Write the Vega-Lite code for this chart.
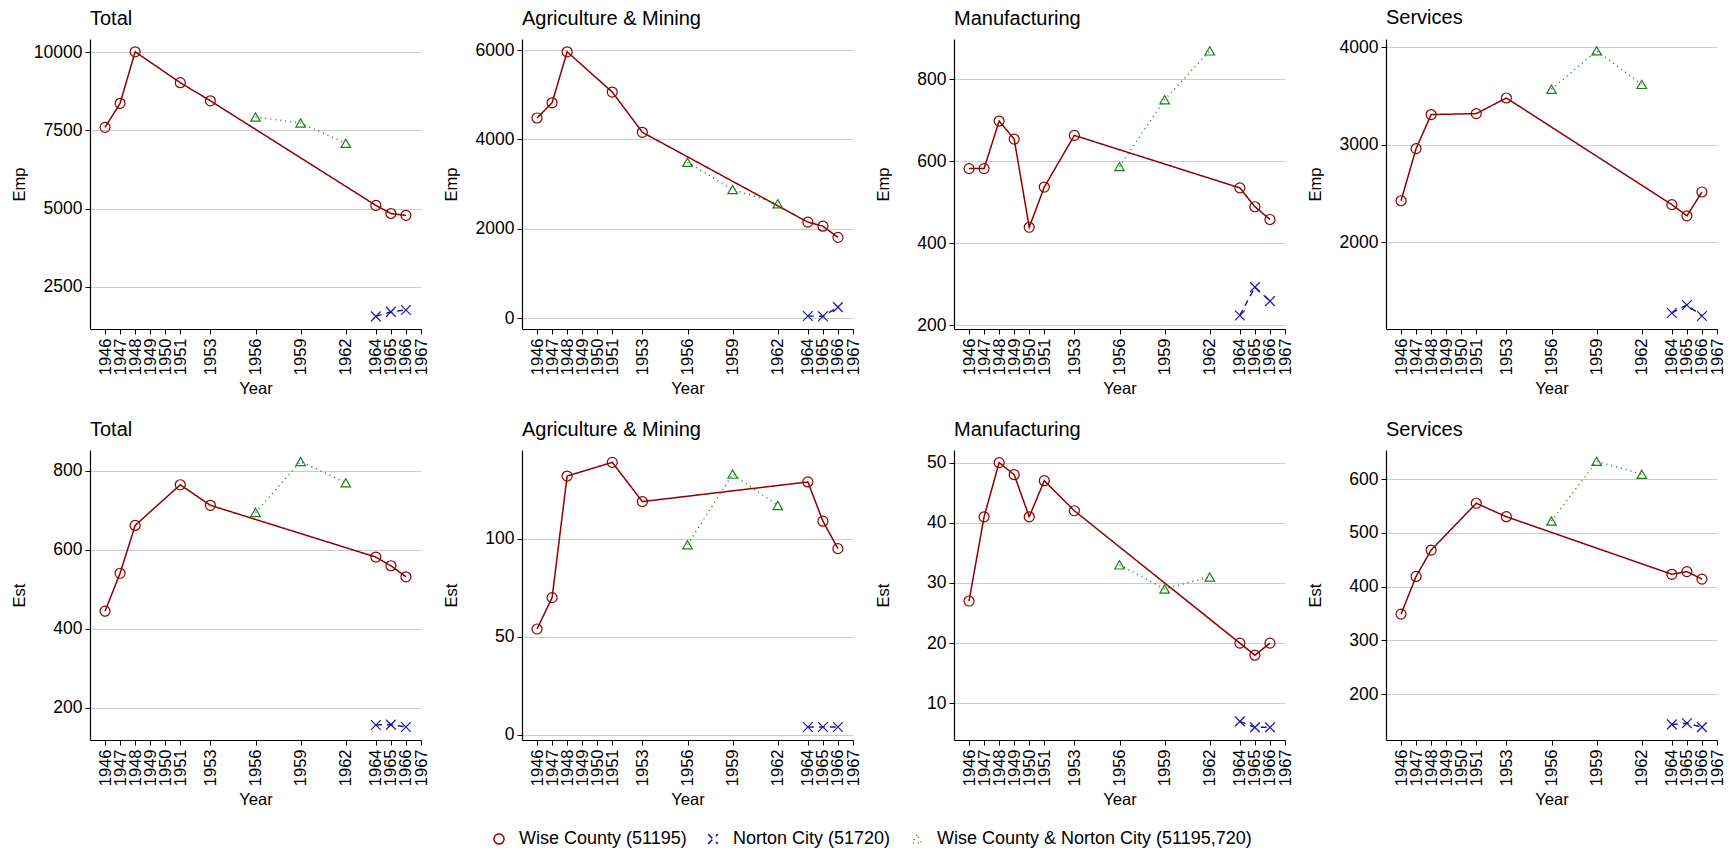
{
  "$schema": "https://vega.github.io/schema/vega-lite/v6.json",
  "background": "white",
  "padding": {"left": 11, "top": 8, "right": 5, "bottom": 5},
  "datasets": {
    "emp": [
      {"measure": "Emp", "sector": "Total", "area": "Wise County (51195)", "year": 1946, "value": 7600},
      {"measure": "Emp", "sector": "Total", "area": "Wise County (51195)", "year": 1947, "value": 8370},
      {"measure": "Emp", "sector": "Total", "area": "Wise County (51195)", "year": 1948, "value": 10020},
      {"measure": "Emp", "sector": "Total", "area": "Wise County (51195)", "year": 1951, "value": 9030},
      {"measure": "Emp", "sector": "Total", "area": "Wise County (51195)", "year": 1953, "value": 8450},
      {"measure": "Emp", "sector": "Total", "area": "Wise County (51195)", "year": 1964, "value": 5100},
      {"measure": "Emp", "sector": "Total", "area": "Wise County (51195)", "year": 1965, "value": 4840},
      {"measure": "Emp", "sector": "Total", "area": "Wise County (51195)", "year": 1966, "value": 4780},
      {"measure": "Emp", "sector": "Total", "area": "Norton City (51720)", "year": 1964, "value": 1545},
      {"measure": "Emp", "sector": "Total", "area": "Norton City (51720)", "year": 1965, "value": 1690},
      {"measure": "Emp", "sector": "Total", "area": "Norton City (51720)", "year": 1966, "value": 1750},
      {"measure": "Emp", "sector": "Total", "area": "Wise County & Norton City (51195,720)", "year": 1956, "value": 7930},
      {"measure": "Emp", "sector": "Total", "area": "Wise County & Norton City (51195,720)", "year": 1959, "value": 7740},
      {"measure": "Emp", "sector": "Total", "area": "Wise County & Norton City (51195,720)", "year": 1962, "value": 7090},

      {"measure": "Emp", "sector": "Agri", "area": "Wise County (51195)", "year": 1946, "value": 4480},
      {"measure": "Emp", "sector": "Agri", "area": "Wise County (51195)", "year": 1947, "value": 4820},
      {"measure": "Emp", "sector": "Agri", "area": "Wise County (51195)", "year": 1948, "value": 5960},
      {"measure": "Emp", "sector": "Agri", "area": "Wise County (51195)", "year": 1951, "value": 5060},
      {"measure": "Emp", "sector": "Agri", "area": "Wise County (51195)", "year": 1953, "value": 4160},
      {"measure": "Emp", "sector": "Agri", "area": "Wise County (51195)", "year": 1964, "value": 2150},
      {"measure": "Emp", "sector": "Agri", "area": "Wise County (51195)", "year": 1965, "value": 2060},
      {"measure": "Emp", "sector": "Agri", "area": "Wise County (51195)", "year": 1966, "value": 1810},
      {"measure": "Emp", "sector": "Agri", "area": "Norton City (51720)", "year": 1964, "value": 50},
      {"measure": "Emp", "sector": "Agri", "area": "Norton City (51720)", "year": 1965, "value": 45},
      {"measure": "Emp", "sector": "Agri", "area": "Norton City (51720)", "year": 1966, "value": 250},
      {"measure": "Emp", "sector": "Agri", "area": "Wise County & Norton City (51195,720)", "year": 1956, "value": 3490},
      {"measure": "Emp", "sector": "Agri", "area": "Wise County & Norton City (51195,720)", "year": 1959, "value": 2880},
      {"measure": "Emp", "sector": "Agri", "area": "Wise County & Norton City (51195,720)", "year": 1962, "value": 2560},

      {"measure": "Emp", "sector": "Manuf", "area": "Wise County (51195)", "year": 1946, "value": 582},
      {"measure": "Emp", "sector": "Manuf", "area": "Wise County (51195)", "year": 1947, "value": 582},
      {"measure": "Emp", "sector": "Manuf", "area": "Wise County (51195)", "year": 1948, "value": 698},
      {"measure": "Emp", "sector": "Manuf", "area": "Wise County (51195)", "year": 1949, "value": 654},
      {"measure": "Emp", "sector": "Manuf", "area": "Wise County (51195)", "year": 1950, "value": 439},
      {"measure": "Emp", "sector": "Manuf", "area": "Wise County (51195)", "year": 1951, "value": 537},
      {"measure": "Emp", "sector": "Manuf", "area": "Wise County (51195)", "year": 1953, "value": 663},
      {"measure": "Emp", "sector": "Manuf", "area": "Wise County (51195)", "year": 1964, "value": 535},
      {"measure": "Emp", "sector": "Manuf", "area": "Wise County (51195)", "year": 1965, "value": 489},
      {"measure": "Emp", "sector": "Manuf", "area": "Wise County (51195)", "year": 1966, "value": 458},
      {"measure": "Emp", "sector": "Manuf", "area": "Norton City (51720)", "year": 1964, "value": 224},
      {"measure": "Emp", "sector": "Manuf", "area": "Norton City (51720)", "year": 1965, "value": 293},
      {"measure": "Emp", "sector": "Manuf", "area": "Norton City (51720)", "year": 1966, "value": 259},
      {"measure": "Emp", "sector": "Manuf", "area": "Wise County & Norton City (51195,720)", "year": 1956, "value": 587},
      {"measure": "Emp", "sector": "Manuf", "area": "Wise County & Norton City (51195,720)", "year": 1959, "value": 750},
      {"measure": "Emp", "sector": "Manuf", "area": "Wise County & Norton City (51195,720)", "year": 1962, "value": 869},

      {"measure": "Emp", "sector": "Serv", "area": "Wise County (51195)", "year": 1946, "value": 2425},
      {"measure": "Emp", "sector": "Serv", "area": "Wise County (51195)", "year": 1947, "value": 2960},
      {"measure": "Emp", "sector": "Serv", "area": "Wise County (51195)", "year": 1948, "value": 3310},
      {"measure": "Emp", "sector": "Serv", "area": "Wise County (51195)", "year": 1951, "value": 3320},
      {"measure": "Emp", "sector": "Serv", "area": "Wise County (51195)", "year": 1953, "value": 3480},
      {"measure": "Emp", "sector": "Serv", "area": "Wise County (51195)", "year": 1964, "value": 2385},
      {"measure": "Emp", "sector": "Serv", "area": "Wise County (51195)", "year": 1965, "value": 2270},
      {"measure": "Emp", "sector": "Serv", "area": "Wise County (51195)", "year": 1966, "value": 2515},
      {"measure": "Emp", "sector": "Serv", "area": "Norton City (51720)", "year": 1964, "value": 1273},
      {"measure": "Emp", "sector": "Serv", "area": "Norton City (51720)", "year": 1965, "value": 1355},
      {"measure": "Emp", "sector": "Serv", "area": "Norton City (51720)", "year": 1966, "value": 1242},
      {"measure": "Emp", "sector": "Serv", "area": "Wise County & Norton City (51195,720)", "year": 1956, "value": 3570},
      {"measure": "Emp", "sector": "Serv", "area": "Wise County & Norton City (51195,720)", "year": 1959, "value": 3965},
      {"measure": "Emp", "sector": "Serv", "area": "Wise County & Norton City (51195,720)", "year": 1962, "value": 3620},

      {"measure": "Est", "sector": "Total", "area": "Wise County (51195)", "year": 1946, "value": 444},
      {"measure": "Est", "sector": "Total", "area": "Wise County (51195)", "year": 1947, "value": 540},
      {"measure": "Est", "sector": "Total", "area": "Wise County (51195)", "year": 1948, "value": 661},
      {"measure": "Est", "sector": "Total", "area": "Wise County (51195)", "year": 1951, "value": 764},
      {"measure": "Est", "sector": "Total", "area": "Wise County (51195)", "year": 1953, "value": 712},
      {"measure": "Est", "sector": "Total", "area": "Wise County (51195)", "year": 1964, "value": 581},
      {"measure": "Est", "sector": "Total", "area": "Wise County (51195)", "year": 1965, "value": 559},
      {"measure": "Est", "sector": "Total", "area": "Wise County (51195)", "year": 1966, "value": 531},
      {"measure": "Est", "sector": "Total", "area": "Norton City (51720)", "year": 1964, "value": 156},
      {"measure": "Est", "sector": "Total", "area": "Norton City (51720)", "year": 1965, "value": 157},
      {"measure": "Est", "sector": "Total", "area": "Norton City (51720)", "year": 1966, "value": 151},
      {"measure": "Est", "sector": "Total", "area": "Wise County & Norton City (51195,720)", "year": 1956, "value": 694},
      {"measure": "Est", "sector": "Total", "area": "Wise County & Norton City (51195,720)", "year": 1959, "value": 823},
      {"measure": "Est", "sector": "Total", "area": "Wise County & Norton City (51195,720)", "year": 1962, "value": 769},

      {"measure": "Est", "sector": "Agri", "area": "Wise County (51195)", "year": 1946, "value": 54},
      {"measure": "Est", "sector": "Agri", "area": "Wise County (51195)", "year": 1947, "value": 70},
      {"measure": "Est", "sector": "Agri", "area": "Wise County (51195)", "year": 1948, "value": 132},
      {"measure": "Est", "sector": "Agri", "area": "Wise County (51195)", "year": 1951, "value": 139},
      {"measure": "Est", "sector": "Agri", "area": "Wise County (51195)", "year": 1953, "value": 119},
      {"measure": "Est", "sector": "Agri", "area": "Wise County (51195)", "year": 1964, "value": 129},
      {"measure": "Est", "sector": "Agri", "area": "Wise County (51195)", "year": 1965, "value": 109},
      {"measure": "Est", "sector": "Agri", "area": "Wise County (51195)", "year": 1966, "value": 95},
      {"measure": "Est", "sector": "Agri", "area": "Norton City (51720)", "year": 1964, "value": 4},
      {"measure": "Est", "sector": "Agri", "area": "Norton City (51720)", "year": 1965, "value": 4},
      {"measure": "Est", "sector": "Agri", "area": "Norton City (51720)", "year": 1966, "value": 4},
      {"measure": "Est", "sector": "Agri", "area": "Wise County & Norton City (51195,720)", "year": 1956, "value": 97},
      {"measure": "Est", "sector": "Agri", "area": "Wise County & Norton City (51195,720)", "year": 1959, "value": 133},
      {"measure": "Est", "sector": "Agri", "area": "Wise County & Norton City (51195,720)", "year": 1962, "value": 117},

      {"measure": "Est", "sector": "Manuf", "area": "Wise County (51195)", "year": 1946, "value": 27},
      {"measure": "Est", "sector": "Manuf", "area": "Wise County (51195)", "year": 1947, "value": 41},
      {"measure": "Est", "sector": "Manuf", "area": "Wise County (51195)", "year": 1948, "value": 50},
      {"measure": "Est", "sector": "Manuf", "area": "Wise County (51195)", "year": 1949, "value": 48},
      {"measure": "Est", "sector": "Manuf", "area": "Wise County (51195)", "year": 1950, "value": 41},
      {"measure": "Est", "sector": "Manuf", "area": "Wise County (51195)", "year": 1951, "value": 47},
      {"measure": "Est", "sector": "Manuf", "area": "Wise County (51195)", "year": 1953, "value": 42},
      {"measure": "Est", "sector": "Manuf", "area": "Wise County (51195)", "year": 1964, "value": 20},
      {"measure": "Est", "sector": "Manuf", "area": "Wise County (51195)", "year": 1965, "value": 18},
      {"measure": "Est", "sector": "Manuf", "area": "Wise County (51195)", "year": 1966, "value": 20},
      {"measure": "Est", "sector": "Manuf", "area": "Norton City (51720)", "year": 1964, "value": 7},
      {"measure": "Est", "sector": "Manuf", "area": "Norton City (51720)", "year": 1965, "value": 6},
      {"measure": "Est", "sector": "Manuf", "area": "Norton City (51720)", "year": 1966, "value": 6},
      {"measure": "Est", "sector": "Manuf", "area": "Wise County & Norton City (51195,720)", "year": 1956, "value": 33},
      {"measure": "Est", "sector": "Manuf", "area": "Wise County & Norton City (51195,720)", "year": 1959, "value": 29},
      {"measure": "Est", "sector": "Manuf", "area": "Wise County & Norton City (51195,720)", "year": 1962, "value": 31},

      {"measure": "Est", "sector": "Serv", "area": "Wise County (51195)", "year": 1946, "value": 349},
      {"measure": "Est", "sector": "Serv", "area": "Wise County (51195)", "year": 1947, "value": 419},
      {"measure": "Est", "sector": "Serv", "area": "Wise County (51195)", "year": 1948, "value": 468},
      {"measure": "Est", "sector": "Serv", "area": "Wise County (51195)", "year": 1951, "value": 555},
      {"measure": "Est", "sector": "Serv", "area": "Wise County (51195)", "year": 1953, "value": 530},
      {"measure": "Est", "sector": "Serv", "area": "Wise County (51195)", "year": 1964, "value": 423},
      {"measure": "Est", "sector": "Serv", "area": "Wise County (51195)", "year": 1965, "value": 428},
      {"measure": "Est", "sector": "Serv", "area": "Wise County (51195)", "year": 1966, "value": 414},
      {"measure": "Est", "sector": "Serv", "area": "Norton City (51720)", "year": 1964, "value": 144},
      {"measure": "Est", "sector": "Serv", "area": "Norton City (51720)", "year": 1965, "value": 146},
      {"measure": "Est", "sector": "Serv", "area": "Norton City (51720)", "year": 1966, "value": 139},
      {"measure": "Est", "sector": "Serv", "area": "Wise County & Norton City (51195,720)", "year": 1956, "value": 522},
      {"measure": "Est", "sector": "Serv", "area": "Wise County & Norton City (51195,720)", "year": 1959, "value": 633},
      {"measure": "Est", "sector": "Serv", "area": "Wise County & Norton City (51195,720)", "year": 1962, "value": 609}
    ]
  },
  "data": {"name": "emp"},
  "columns": 4,
  "bounds": "flush",
  "spacing": {"row": 121, "column": 101},
  "concat": [
    {
      "title": "Total", "width": 331, "height": 290,
      "transform": [{"filter": "datum.measure == 'Emp' && datum.sector == 'Total'"}],
      "encoding": {
        "x": {"field": "year", "type": "quantitative", "title": "Year", "scale": {"domain": [1945, 1967], "nice": false, "zero": false}, "axis": {"values": [1946,1947,1948,1949,1950,1951,1953,1956,1959,1962,1964,1965,1966,1967]}},
        "y": {"field": "value", "type": "quantitative", "title": "Emp", "scale": {"domain": [1140, 10430], "nice": false, "zero": false}, "axis": {"values": [2500, 5000, 7500, 10000]}},
        "color": {"field": "area", "type": "nominal", "title": null, "scale": {"domain": ["Wise County (51195)", "Norton City (51720)", "Wise County & Norton City (51195,720)"], "range": ["#8B0000", "#1818A0", "#1B801B"]}, "legend": {"orient": "none", "legendX": 400, "legendY": 791}}
      },
      "layer": [
        {"mark": {"type": "line", "strokeWidth": 1.5}, "encoding": {"strokeDash": {"field": "area", "type": "nominal", "title": null, "legend": null, "scale": {"domain": ["Wise County (51195)", "Norton City (51720)", "Wise County & Norton City (51195,720)"], "range": [[1, 0], [6, 5], [1, 4]]}}}},
        {"mark": {"type": "point", "filled": false, "strokeWidth": 1.2, "opacity": 1}, "encoding": {"shape": {"field": "area", "type": "nominal", "title": null, "scale": {"domain": ["Wise County (51195)", "Norton City (51720)", "Wise County & Norton City (51195,720)"], "range": ["circle", "M-1,-1L1,1M-1,1L1,-1", "triangle-up"]}}, "size": {"field": "area", "type": "nominal", "title": null, "scale": {"domain": ["Wise County (51195)", "Norton City (51720)", "Wise County & Norton City (51195,720)"], "range": [100, 90, 140]}}}}
      ]
    },
    {
      "title": "Agriculture & Mining", "width": 331, "height": 290,
      "transform": [{"filter": "datum.measure == 'Emp' && datum.sector == 'Agri'"}],
      "encoding": {
        "x": {"field": "year", "type": "quantitative", "title": "Year", "scale": {"domain": [1945, 1967], "nice": false, "zero": false}, "axis": {"values": [1946,1947,1948,1949,1950,1951,1953,1956,1959,1962,1964,1965,1966,1967]}},
        "y": {"field": "value", "type": "quantitative", "title": "Emp", "scale": {"domain": [-240, 6247], "nice": false, "zero": false}, "axis": {"values": [0, 2000, 4000, 6000]}},
        "color": {"field": "area", "type": "nominal", "title": null, "scale": {"domain": ["Wise County (51195)", "Norton City (51720)", "Wise County & Norton City (51195,720)"], "range": ["#8B0000", "#1818A0", "#1B801B"]}, "legend": {"orient": "none", "legendX": 400, "legendY": 791}}
      },
      "layer": [
        {"mark": {"type": "line", "strokeWidth": 1.5}, "encoding": {"strokeDash": {"field": "area", "type": "nominal", "title": null, "legend": null, "scale": {"domain": ["Wise County (51195)", "Norton City (51720)", "Wise County & Norton City (51195,720)"], "range": [[1, 0], [6, 5], [1, 4]]}}}},
        {"mark": {"type": "point", "filled": false, "strokeWidth": 1.2, "opacity": 1}, "encoding": {"shape": {"field": "area", "type": "nominal", "title": null, "scale": {"domain": ["Wise County (51195)", "Norton City (51720)", "Wise County & Norton City (51195,720)"], "range": ["circle", "M-1,-1L1,1M-1,1L1,-1", "triangle-up"]}}, "size": {"field": "area", "type": "nominal", "title": null, "scale": {"domain": ["Wise County (51195)", "Norton City (51720)", "Wise County & Norton City (51195,720)"], "range": [100, 90, 140]}}}}
      ]
    },
    {
      "title": "Manufacturing", "width": 331, "height": 290,
      "transform": [{"filter": "datum.measure == 'Emp' && datum.sector == 'Manuf'"}],
      "encoding": {
        "x": {"field": "year", "type": "quantitative", "title": "Year", "scale": {"domain": [1945, 1967], "nice": false, "zero": false}, "axis": {"values": [1946,1947,1948,1949,1950,1951,1953,1956,1959,1962,1964,1965,1966,1967]}},
        "y": {"field": "value", "type": "quantitative", "title": "Emp", "scale": {"domain": [191, 898], "nice": false, "zero": false}, "axis": {"values": [200, 400, 600, 800]}},
        "color": {"field": "area", "type": "nominal", "title": null, "scale": {"domain": ["Wise County (51195)", "Norton City (51720)", "Wise County & Norton City (51195,720)"], "range": ["#8B0000", "#1818A0", "#1B801B"]}, "legend": {"orient": "none", "legendX": 400, "legendY": 791}}
      },
      "layer": [
        {"mark": {"type": "line", "strokeWidth": 1.5}, "encoding": {"strokeDash": {"field": "area", "type": "nominal", "title": null, "legend": null, "scale": {"domain": ["Wise County (51195)", "Norton City (51720)", "Wise County & Norton City (51195,720)"], "range": [[1, 0], [6, 5], [1, 4]]}}}},
        {"mark": {"type": "point", "filled": false, "strokeWidth": 1.2, "opacity": 1}, "encoding": {"shape": {"field": "area", "type": "nominal", "title": null, "scale": {"domain": ["Wise County (51195)", "Norton City (51720)", "Wise County & Norton City (51195,720)"], "range": ["circle", "M-1,-1L1,1M-1,1L1,-1", "triangle-up"]}}, "size": {"field": "area", "type": "nominal", "title": null, "scale": {"domain": ["Wise County (51195)", "Norton City (51720)", "Wise County & Norton City (51195,720)"], "range": [100, 90, 140]}}}}
      ]
    },
    {
      "title": "Services", "width": 331, "height": 290,
      "transform": [{"filter": "datum.measure == 'Emp' && datum.sector == 'Serv'"}],
      "encoding": {
        "x": {"field": "year", "type": "quantitative", "title": "Year", "scale": {"domain": [1945, 1967], "nice": false, "zero": false}, "axis": {"values": [1946,1947,1948,1949,1950,1951,1953,1956,1959,1962,1964,1965,1966,1967]}},
        "y": {"field": "value", "type": "quantitative", "title": "Emp", "scale": {"domain": [1108, 4086], "nice": false, "zero": false}, "axis": {"values": [2000, 3000, 4000]}},
        "color": {"field": "area", "type": "nominal", "title": null, "scale": {"domain": ["Wise County (51195)", "Norton City (51720)", "Wise County & Norton City (51195,720)"], "range": ["#8B0000", "#1818A0", "#1B801B"]}, "legend": {"orient": "none", "legendX": 400, "legendY": 791}}
      },
      "layer": [
        {"mark": {"type": "line", "strokeWidth": 1.5}, "encoding": {"strokeDash": {"field": "area", "type": "nominal", "title": null, "legend": null, "scale": {"domain": ["Wise County (51195)", "Norton City (51720)", "Wise County & Norton City (51195,720)"], "range": [[1, 0], [6, 5], [1, 4]]}}}},
        {"mark": {"type": "point", "filled": false, "strokeWidth": 1.2, "opacity": 1}, "encoding": {"shape": {"field": "area", "type": "nominal", "title": null, "scale": {"domain": ["Wise County (51195)", "Norton City (51720)", "Wise County & Norton City (51195,720)"], "range": ["circle", "M-1,-1L1,1M-1,1L1,-1", "triangle-up"]}}, "size": {"field": "area", "type": "nominal", "title": null, "scale": {"domain": ["Wise County (51195)", "Norton City (51720)", "Wise County & Norton City (51195,720)"], "range": [100, 90, 140]}}}}
      ]
    },
    {
      "title": "Total", "width": 331, "height": 290,
      "transform": [{"filter": "datum.measure == 'Est' && datum.sector == 'Total'"}],
      "encoding": {
        "x": {"field": "year", "type": "quantitative", "title": "Year", "scale": {"domain": [1945, 1967], "nice": false, "zero": false}, "axis": {"values": [1946,1947,1948,1949,1950,1951,1953,1956,1959,1962,1964,1965,1966,1967]}},
        "y": {"field": "value", "type": "quantitative", "title": "Est", "scale": {"domain": [118, 852], "nice": false, "zero": false}, "axis": {"values": [200, 400, 600, 800]}},
        "color": {"field": "area", "type": "nominal", "title": null, "scale": {"domain": ["Wise County (51195)", "Norton City (51720)", "Wise County & Norton City (51195,720)"], "range": ["#8B0000", "#1818A0", "#1B801B"]}, "legend": {"orient": "none", "legendX": 400, "legendY": 791}}
      },
      "layer": [
        {"mark": {"type": "line", "strokeWidth": 1.5}, "encoding": {"strokeDash": {"field": "area", "type": "nominal", "title": null, "legend": null, "scale": {"domain": ["Wise County (51195)", "Norton City (51720)", "Wise County & Norton City (51195,720)"], "range": [[1, 0], [6, 5], [1, 4]]}}}},
        {"mark": {"type": "point", "filled": false, "strokeWidth": 1.2, "opacity": 1}, "encoding": {"shape": {"field": "area", "type": "nominal", "title": null, "scale": {"domain": ["Wise County (51195)", "Norton City (51720)", "Wise County & Norton City (51195,720)"], "range": ["circle", "M-1,-1L1,1M-1,1L1,-1", "triangle-up"]}}, "size": {"field": "area", "type": "nominal", "title": null, "scale": {"domain": ["Wise County (51195)", "Norton City (51720)", "Wise County & Norton City (51195,720)"], "range": [100, 90, 140]}}}}
      ]
    },
    {
      "title": "Agriculture & Mining", "width": 331, "height": 290,
      "transform": [{"filter": "datum.measure == 'Est' && datum.sector == 'Agri'"}],
      "encoding": {
        "x": {"field": "year", "type": "quantitative", "title": "Year", "scale": {"domain": [1945, 1967], "nice": false, "zero": false}, "axis": {"values": [1946,1947,1948,1949,1950,1951,1953,1956,1959,1962,1964,1965,1966,1967]}},
        "y": {"field": "value", "type": "quantitative", "title": "Est", "scale": {"domain": [-2.6, 145.3], "nice": false, "zero": false}, "axis": {"values": [0, 50, 100]}},
        "color": {"field": "area", "type": "nominal", "title": null, "scale": {"domain": ["Wise County (51195)", "Norton City (51720)", "Wise County & Norton City (51195,720)"], "range": ["#8B0000", "#1818A0", "#1B801B"]}, "legend": {"orient": "none", "legendX": 400, "legendY": 791}}
      },
      "layer": [
        {"mark": {"type": "line", "strokeWidth": 1.5}, "encoding": {"strokeDash": {"field": "area", "type": "nominal", "title": null, "legend": null, "scale": {"domain": ["Wise County (51195)", "Norton City (51720)", "Wise County & Norton City (51195,720)"], "range": [[1, 0], [6, 5], [1, 4]]}}}},
        {"mark": {"type": "point", "filled": false, "strokeWidth": 1.2, "opacity": 1}, "encoding": {"shape": {"field": "area", "type": "nominal", "title": null, "scale": {"domain": ["Wise County (51195)", "Norton City (51720)", "Wise County & Norton City (51195,720)"], "range": ["circle", "M-1,-1L1,1M-1,1L1,-1", "triangle-up"]}}, "size": {"field": "area", "type": "nominal", "title": null, "scale": {"domain": ["Wise County (51195)", "Norton City (51720)", "Wise County & Norton City (51195,720)"], "range": [100, 90, 140]}}}}
      ]
    },
    {
      "title": "Manufacturing", "width": 331, "height": 290,
      "transform": [{"filter": "datum.measure == 'Est' && datum.sector == 'Manuf'"}],
      "encoding": {
        "x": {"field": "year", "type": "quantitative", "title": "Year", "scale": {"domain": [1945, 1967], "nice": false, "zero": false}, "axis": {"values": [1946,1947,1948,1949,1950,1951,1953,1956,1959,1962,1964,1965,1966,1967]}},
        "y": {"field": "value", "type": "quantitative", "title": "Est", "scale": {"domain": [3.9, 52.1], "nice": false, "zero": false}, "axis": {"values": [10, 20, 30, 40, 50]}},
        "color": {"field": "area", "type": "nominal", "title": null, "scale": {"domain": ["Wise County (51195)", "Norton City (51720)", "Wise County & Norton City (51195,720)"], "range": ["#8B0000", "#1818A0", "#1B801B"]}, "legend": {"orient": "none", "legendX": 400, "legendY": 791}}
      },
      "layer": [
        {"mark": {"type": "line", "strokeWidth": 1.5}, "encoding": {"strokeDash": {"field": "area", "type": "nominal", "title": null, "legend": null, "scale": {"domain": ["Wise County (51195)", "Norton City (51720)", "Wise County & Norton City (51195,720)"], "range": [[1, 0], [6, 5], [1, 4]]}}}},
        {"mark": {"type": "point", "filled": false, "strokeWidth": 1.2, "opacity": 1}, "encoding": {"shape": {"field": "area", "type": "nominal", "title": null, "scale": {"domain": ["Wise County (51195)", "Norton City (51720)", "Wise County & Norton City (51195,720)"], "range": ["circle", "M-1,-1L1,1M-1,1L1,-1", "triangle-up"]}}, "size": {"field": "area", "type": "nominal", "title": null, "scale": {"domain": ["Wise County (51195)", "Norton City (51720)", "Wise County & Norton City (51195,720)"], "range": [100, 90, 140]}}}}
      ]
    },
    {
      "title": "Services", "width": 331, "height": 290,
      "transform": [{"filter": "datum.measure == 'Est' && datum.sector == 'Serv'"}],
      "encoding": {
        "x": {"field": "year", "type": "quantitative", "title": "Year", "scale": {"domain": [1945, 1967], "nice": false, "zero": false}, "axis": {"values": [1946,1947,1948,1949,1950,1951,1953,1956,1959,1962,1964,1965,1966,1967]}},
        "y": {"field": "value", "type": "quantitative", "title": "Est", "scale": {"domain": [115, 654], "nice": false, "zero": false}, "axis": {"values": [200, 300, 400, 500, 600]}},
        "color": {"field": "area", "type": "nominal", "title": null, "scale": {"domain": ["Wise County (51195)", "Norton City (51720)", "Wise County & Norton City (51195,720)"], "range": ["#8B0000", "#1818A0", "#1B801B"]}, "legend": {"orient": "none", "legendX": 400, "legendY": 791}}
      },
      "layer": [
        {"mark": {"type": "line", "strokeWidth": 1.5}, "encoding": {"strokeDash": {"field": "area", "type": "nominal", "title": null, "legend": null, "scale": {"domain": ["Wise County (51195)", "Norton City (51720)", "Wise County & Norton City (51195,720)"], "range": [[1, 0], [6, 5], [1, 4]]}}}},
        {"mark": {"type": "point", "filled": false, "strokeWidth": 1.2, "opacity": 1}, "encoding": {"shape": {"field": "area", "type": "nominal", "title": null, "scale": {"domain": ["Wise County (51195)", "Norton City (51720)", "Wise County & Norton City (51195,720)"], "range": ["circle", "M-1,-1L1,1M-1,1L1,-1", "triangle-up"]}}, "size": {"field": "area", "type": "nominal", "title": null, "scale": {"domain": ["Wise County (51195)", "Norton City (51720)", "Wise County & Norton City (51195,720)"], "range": [100, 90, 140]}}}}
      ]
    }
  ],
  "config": {
    "font": "Liberation Sans",
    "view": {"stroke": null},
    "title": {"anchor": "start", "frame": "group", "fontSize": 20, "fontWeight": "normal", "font": "Liberation Sans", "color": "black", "offset": 10},
    "axis": {"domainColor": "black", "domainWidth": 1.2, "tickColor": "black", "tickSize": 5, "labelFont": "Liberation Sans", "labelColor": "black", "titleFont": "Liberation Sans", "titleFontSize": 16.5, "titleFontWeight": "normal", "titleColor": "black", "gridColor": "#cccccc", "gridWidth": 1, "format": "d"},
    "axisX": {"grid": false, "labelFontSize": 16.5, "labelAngle": 270, "labelOverlap": false, "labelPadding": 4, "titleY": 51, "titleBaseline": "top", "labelBound": false, "labelFlush": false},
    "axisY": {"grid": true, "labelFontSize": 17.5, "labelPadding": 3, "titleX": -71, "titleBaseline": "middle", "labelOverlap": false, "labelFlush": false},
    "legend": {"direction": "horizontal", "labelFont": "Liberation Sans", "labelFontSize": 18, "labelColor": "black", "symbolStrokeWidth": 1.5, "columnPadding": 17, "labelOffset": 11, "labelLimit": 500}
  }
}
